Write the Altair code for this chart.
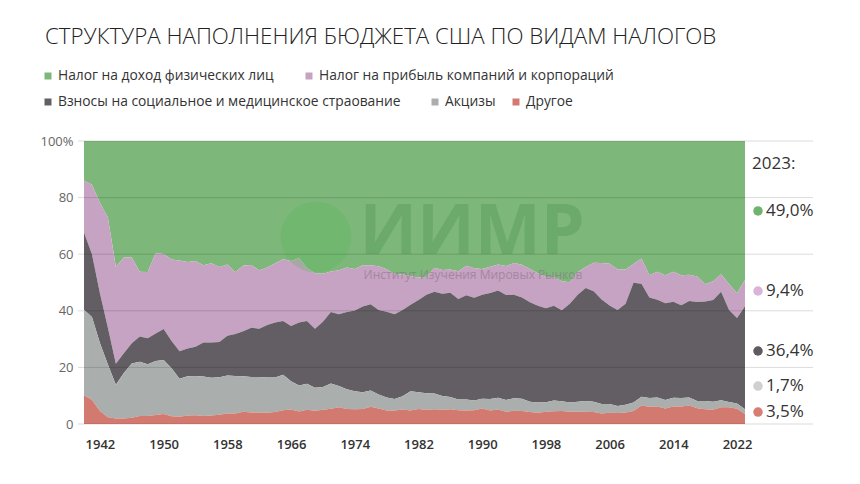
import altair as alt
import pandas as pd

years = list(range(1940, 2024))

series_names = [
    "Налог на доход физических лиц",
    "Налог на прибыль компаний и корпораций",
    "Взносы на социальное и медицинское страование",
    "Акцизы",
    "Другое",
]

indiv = [
    14.0, 15.5, 21.8, 27.0, 44.4, 41.2, 41.2, 46.2, 46.3, 39.6,
    39.9, 41.9, 42.2, 42.8, 42.4, 43.9, 43.2, 44.5, 43.6, 46.4,
    44.0, 43.8, 45.7, 44.7, 43.2, 41.8, 42.4, 41.3, 44.9, 46.7,
    46.9, 46.1, 45.7, 44.7, 45.2, 43.9, 43.9, 44.3, 45.3, 47.0,
    47.2, 47.7, 48.2, 48.1, 44.8, 45.6, 45.4, 46.0, 44.1, 45.0,
    45.2, 44.4, 43.6, 44.2, 43.1, 43.7, 45.2, 46.7, 48.1, 48.1,
    49.6, 49.9, 46.3, 44.5, 43.0, 43.1, 43.4, 45.3, 45.4, 43.5,
    41.5, 47.4, 46.2, 47.4, 46.2, 47.4, 47.3, 47.9, 50.6, 49.6,
    47.1, 50.5, 53.8, 49.0,
]
corp = [
    18.3, 24.5, 32.0, 39.0, 34.3, 33.8, 30.3, 22.9, 23.4, 28.4,
    26.5, 28.8, 32.1, 30.5, 30.3, 27.3, 28.0, 26.5, 25.2, 21.8,
    23.2, 22.2, 20.6, 20.3, 20.9, 21.8, 23.0, 22.8, 18.7, 19.6,
    17.0, 14.3, 15.5, 15.7, 14.7, 14.6, 13.8, 15.4, 15.0, 14.2,
    12.5, 10.2, 8.0, 6.2, 8.5, 8.4, 8.2, 9.8, 10.4, 10.4,
    9.1, 9.3, 9.2, 10.2, 11.2, 11.6, 11.8, 11.5, 11.0, 10.1,
    10.2, 7.6, 8.0, 7.4, 10.1, 12.9, 14.7, 14.4, 12.1, 6.6,
    8.9, 7.9, 9.9, 9.9, 10.6, 10.6, 9.2, 9.0, 6.1, 6.6,
    6.2, 9.2, 8.7, 9.4,
]
social = [
    27.3, 22.2, 17.6, 13.0, 7.4, 7.0, 7.1, 8.9, 9.2, 9.7,
    11.0, 9.6, 9.7, 9.8, 10.3, 12.0, 12.5, 12.5, 14.1, 14.8,
    15.9, 17.4, 17.1, 18.6, 19.5, 19.0, 19.5, 22.3, 22.2, 20.9,
    23.0, 25.3, 25.4, 27.3, 28.5, 30.3, 30.5, 29.9, 30.3, 30.0,
    30.5, 30.5, 32.6, 34.8, 35.9, 36.1, 36.9, 35.5, 36.8, 36.3,
    36.8, 37.5, 37.9, 37.1, 36.6, 35.8, 35.1, 34.2, 33.2, 33.5,
    32.2, 34.9, 37.8, 40.0, 39.0, 36.9, 34.8, 33.9, 35.7, 42.3,
    40.0, 35.5, 34.5, 34.2, 33.9, 32.8, 34.1, 35.0, 35.2, 35.9,
    38.3, 32.5, 30.3, 36.4,
]
excise = [
    30.2, 29.2, 24.0, 18.6, 12.0, 16.1, 19.2, 19.2, 18.3, 19.1,
    19.1, 17.0, 13.4, 13.9, 13.9, 14.0, 13.3, 13.2, 13.4, 13.3,
    12.6, 12.5, 12.6, 12.4, 12.2, 12.5, 10.0, 9.2, 9.2, 8.1,
    8.1, 8.9, 7.5, 7.0, 6.4, 5.9, 5.7, 4.9, 4.6, 4.0,
    4.7, 6.8, 5.9, 5.9, 5.6, 4.9, 4.3, 3.8, 3.9, 3.4,
    3.4, 4.0, 4.2, 4.2, 4.4, 4.3, 3.7, 3.6, 3.4, 3.8,
    3.4, 3.3, 3.6, 3.8, 3.7, 3.4, 3.1, 2.5, 2.7, 3.0,
    3.1, 3.1, 3.2, 3.0, 3.1, 3.0, 2.9, 2.5, 2.9, 2.9,
    2.5, 1.9, 1.8, 1.7,
]
other = [
    10.2, 8.6, 4.6, 2.4, 1.9, 1.9, 2.2, 2.8, 2.8, 3.2,
    3.5, 2.7, 2.6, 3.0, 3.1, 2.8, 3.0, 3.3, 3.7, 3.7,
    4.3, 4.1, 4.0, 4.0, 4.2, 4.9, 5.1, 4.4, 5.0, 4.7,
    5.0, 5.4, 5.9, 5.3, 5.2, 5.3, 6.1, 5.5, 4.8, 4.8,
    5.1, 4.8, 5.3, 5.0, 5.2, 5.0, 5.2, 4.9, 4.8, 4.9,
    5.5, 4.8, 5.1, 4.3, 4.7, 4.6, 4.2, 4.0, 4.3, 4.5,
    4.6, 4.3, 4.3, 4.3, 4.2, 3.7, 4.0, 3.9, 4.1, 4.6,
    6.5, 6.1, 6.2, 5.5, 6.2, 6.2, 6.5, 5.6, 5.2, 5.0,
    5.9, 5.9, 5.4, 3.5,
]

x_tick_years = [1942, 1950, 1958, 1966, 1974, 1982, 1990, 1998, 2006, 2014, 2022]
y_ticks = [0, 20, 40, 60, 80, 100]

area_colors = ["#7db77a", "#c6a3c2", "#635e63", "#aaafad", "#d27a70"]
dot_colors = ["#6fb46e", "#dcb3d8", "#5f5a5f", "#cfd0cf", "#d97c72"]
label_pos = [75.3, 47.0, 25.8, 13.4, 4.2]  # annotation positions (%)

FONT = "Open Sans"
W, H = 735, 283

# ---------- data table ----------
all_vals = [indiv, corp, social, excise, other]
rows = []
for si, (name, vals) in enumerate(zip(series_names, all_vals)):
    for y, v in zip(years, vals):
        rows.append({"year": y, "value": v, "series": name, "ord": 4 - si})
df = pd.DataFrame(rows)

xscale = alt.Scale(domain=[1939.247, 2031.54], nice=False, zero=False)
yscale = alt.Scale(domain=[0, 1], nice=False)

area = alt.Chart(df).mark_area(interpolate="linear").encode(
    x=alt.X("year:Q", scale=xscale,
            axis=alt.Axis(values=x_tick_years, format="d", title=None, grid=False,
                          domain=False, ticks=False, labelPadding=14,
                          labelFont=FONT, labelFontSize=13, labelFontWeight=600,
                          labelColor="#333333", labelFlush=False)),
    y=alt.Y("value:Q", stack="normalize", scale=yscale,
            axis=alt.Axis(values=[v / 100 for v in y_ticks], title=None, grid=False,
                          domain=False, ticks=False, labelPadding=5,
                          labelFont=FONT, labelFontSize=13, labelColor="#666666",
                          labelExpr="datum.value == 1 ? '100%' : format(datum.value*100, 'd')")),
    color=alt.Color("series:N", scale=alt.Scale(domain=series_names, range=area_colors), legend=None),
    order=alt.Order("ord:Q", sort="ascending"),
)

grid_df = pd.DataFrame({"g": [v / 100 for v in y_ticks]})
grid = alt.Chart(grid_df).mark_rule(color="#000000", opacity=0.14, strokeWidth=1).encode(
    y=alt.Y("g:Q", scale=yscale), x=alt.value(0), x2=alt.value(W)
)

# ---------- watermark ----------
globe = alt.Chart(pd.DataFrame({"a": [0]})).mark_point(
    shape="circle", filled=True, size=5000, color="#55b85a", opacity=0.3
).encode(x=alt.value(238), y=alt.value(96))
wm = alt.Chart(pd.DataFrame({"a": [0]})).mark_text(
    text="ИИМР", font=FONT, fontSize=70, fontWeight="bold", color="#2f7d38",
    opacity=0.22, align="center", baseline="middle"
).encode(x=alt.value(394), y=alt.value(92))
wm_sub = alt.Chart(pd.DataFrame({"a": [0]})).mark_text(
    text="Институт Изучения Мировых Рынков", font=FONT, fontSize=12,
    color="#8a6f88", opacity=0.55, align="center", baseline="middle"
).encode(x=alt.value(395), y=alt.value(134))

# ---------- annotations ----------
ann_df = pd.DataFrame({
    "series": series_names,
    "label": [f"{v[-1]:.1f}%".replace(".", ",") for v in all_vals],
    "pos": [p / 100 for p in label_pos],
    "c": dot_colors,
})
dots = alt.Chart(ann_df).mark_point(shape="circle", filled=True, size=90, opacity=1).encode(
    x=alt.value(680), y=alt.Y("pos:Q", scale=yscale), color=alt.Color("c:N", scale=None)
)
ann_text = alt.Chart(ann_df).mark_text(
    align="left", baseline="middle", font=FONT, fontSize=17, color="#333333"
).encode(x=alt.value(688), y=alt.Y("pos:Q", scale=yscale), text="label:N")
year_lbl = alt.Chart(pd.DataFrame({"pos": [0.92]})).mark_text(
    text=f"{years[-1]}:", align="left", baseline="middle", font=FONT, fontSize=17,
    color="#333333"
).encode(x=alt.value(674), y=alt.Y("pos:Q", scale=yscale))

# ---------- title & legend ----------
title = alt.Chart(pd.DataFrame({"a": [0]})).mark_text(
    text="СТРУКТУРА НАПОЛНЕНИЯ БЮДЖЕТА США ПО ВИДАМ НАЛОГОВ", font=FONT, fontSize=22.3,
    fontWeight=300, color="#222222", align="left", baseline="middle"
).encode(x=alt.value(-33), y=alt.value(-104))

legend_layout = [(-30, -65), (231, -65), (-30, -39), (357, -39), (438, -39)]
legend_layers = []
for name, col, (lx, ly) in zip(series_names, area_colors, legend_layout):
    sq = alt.Chart(pd.DataFrame({"a": [0]})).mark_square(size=49, color=col, opacity=1).encode(
        x=alt.value(lx), y=alt.value(ly))
    tx = alt.Chart(pd.DataFrame({"a": [0]})).mark_text(
        text=name, font=FONT, fontSize=13.8, color="#333333", align="left", baseline="middle"
    ).encode(x=alt.value(lx + 10), y=alt.value(ly))
    legend_layers += [sq, tx]

chart = alt.layer(
    area, globe, wm, wm_sub, grid, dots, ann_text, year_lbl, title, *legend_layers
).properties(
    width=W, height=H,
    autosize=alt.AutoSizeParams(type="none"),
    padding={"left": 70, "top": 133, "right": 38, "bottom": 50},
    background="white",
).configure_view(stroke="transparent")

chart.save("out.html", embed_options={"renderer": "svg", "actions": False})
